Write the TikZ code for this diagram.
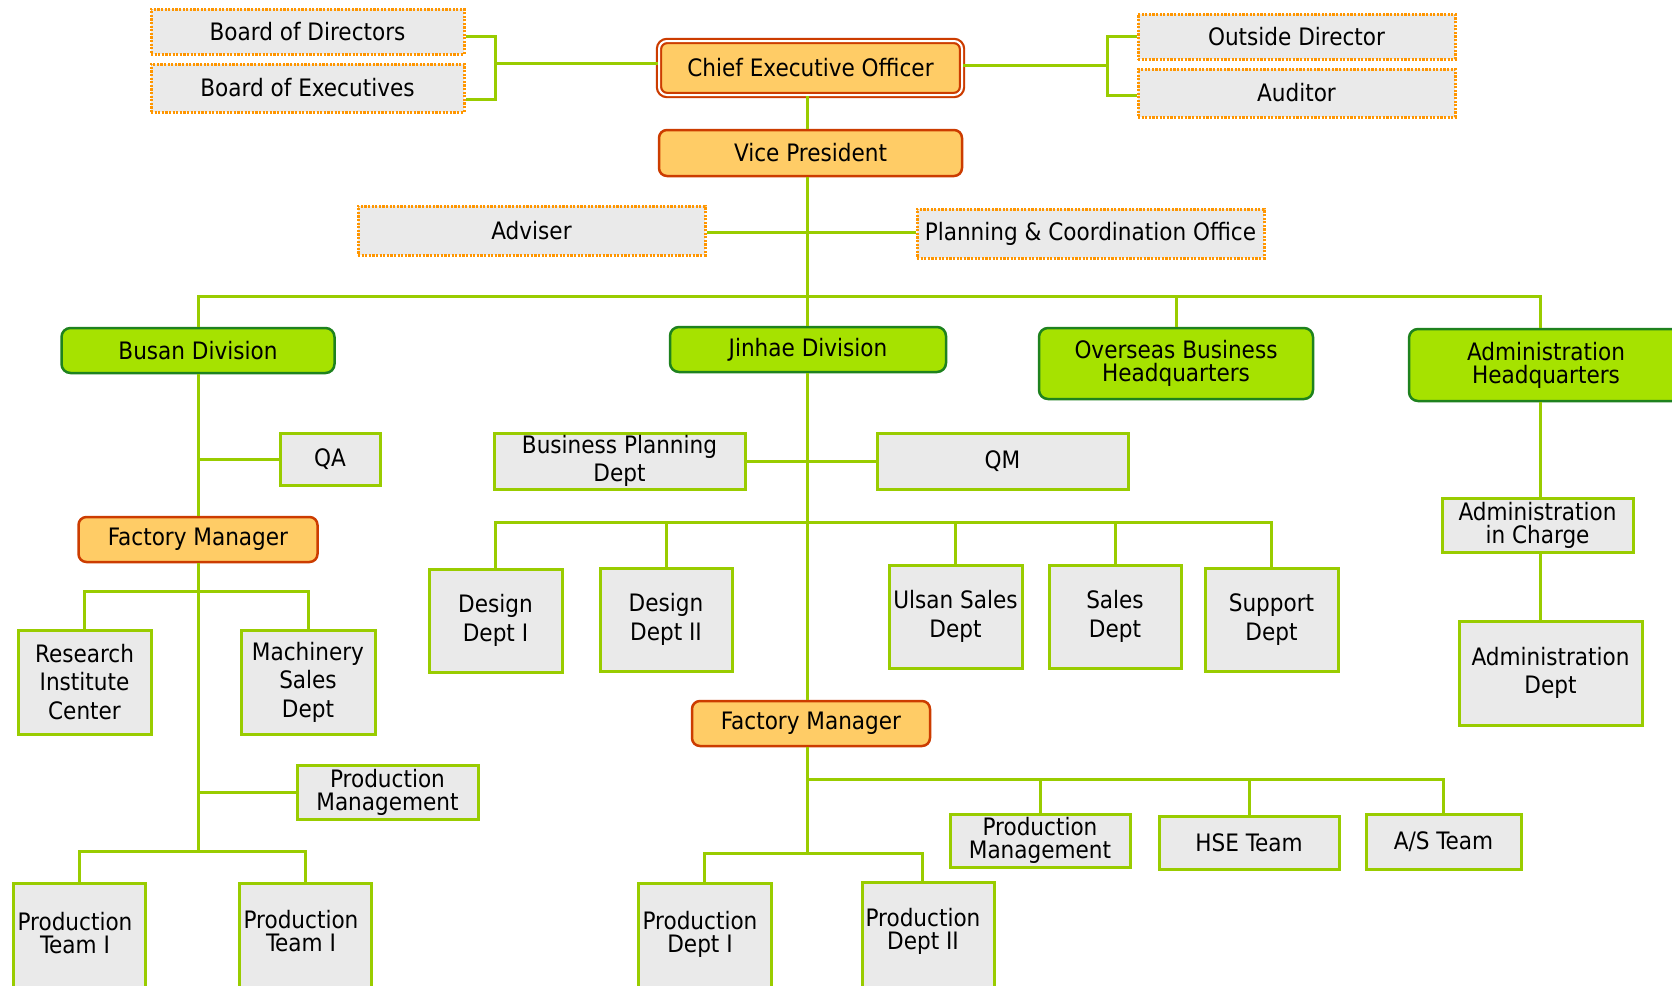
\documentclass[tikz,border=0pt]{standalone}
\usepackage{fontspec}
\setmainfont{DejaVu Sans Condensed}
\usetikzlibrary{calc}
\definecolor{lg}{RGB}{153,204,0}
\definecolor{gfill}{RGB}{234,234,234}
\definecolor{dfill}{RGB}{166,226,0}
\definecolor{dline}{RGB}{30,130,30}
\definecolor{ofill}{RGB}{255,204,102}
\definecolor{oline}{RGB}{204,60,0}
\definecolor{odot}{RGB}{255,150,0}
\begin{document}
\begin{tikzpicture}[x=1pt,y=-1pt,
 base/.style={inner sep=0pt, align=center, font=\fontsize{24}{28.5}\selectfont, text=black},
 tight/.style={font=\fontsize{24}{23}\selectfont},
 gbox/.style={base, draw=lg, fill=gfill, line width=3pt},
 obox/.style={base, draw=odot, fill=gfill, line width=3pt, dash pattern=on 2.2pt off 1.4pt},
 fbox/.style={base, draw=oline, fill=ofill, line width=2.5pt, rounded corners=8pt},
 dbox/.style={base, draw=dline, fill=dfill, line width=2.5pt, rounded corners=9pt},
 conn/.style={draw=lg, line width=3pt},
 sz/.style 2 args={minimum width=#1pt, minimum height=#2pt},
]
\fill[white] (0,0) rectangle (1672,985);
\useasboundingbox (0,0) rectangle (1672,985);
\clip (0,0) rectangle (1672,985);

% dotted boxes
\node[obox, sz={313}{45}] (bod) at (307.5,31.5) {Board of Directors};
\node[obox, sz={313}{48}] (boe) at (307.5,88) {Board of Executives};
\node[obox, sz={317}{45}] (od) at (1296.5,36.5) {Outside Director};
\node[obox, sz={317}{48}] (aud) at (1296.5,93) {Auditor};
\node[obox, sz={347}{49}] (adv) at (531.5,230.5) {Adviser};
\node[obox, sz={347}{49}] (pco) at (1090.5,233.5) {Planning \& Coordination Office};

% orange boxes
\node[fbox, double=white, double distance=2pt, line width=2.2pt, sz={303}{54}] (ceo) at (810.5,68) {Chief Executive Officer};
\node[fbox, sz={303}{46}] (vp) at (810.5,153) {Vice President};
\node[fbox, sz={239}{45}] (fm1) at (198,539.5) {Factory Manager};
\node[fbox, sz={238}{45}] (fm2) at (811,723.5) {Factory Manager};

% divisions
\node[dbox, sz={273}{45}] (busan) at (198,350.5) {Busan Division};
\node[dbox, sz={276}{45}] (jinhae) at (808,349.5) {Jinhae Division};
\node[dbox, tight, sz={274}{71}] (overseas) at (1176,363.5) {Overseas Business\\Headquarters};
\node[dbox, tight, sz={274}{72}] (adminhq) at (1546,365) {Administration\\Headquarters};

% grey boxes
\node[gbox, sz={100}{52}] (qa) at (330,459) {QA};
\node[gbox, sz={133}{104}] (ric) at (84.5,682) {Research\\Institute\\Center};
\node[gbox, sz={134}{104}] (msd) at (308,682) {Machinery\\Sales\\Dept};
\node[gbox, tight, sz={181}{54}] (pm1) at (387.5,792) {Production\\Management};
\node[gbox, sz={251}{56}] (bpd) at (619.5,461) {Business Planning\\Dept};
\node[gbox, sz={251}{56}] (qm) at (1002.5,461) {QM};
\node[gbox, sz={133}{103}] (dd1) at (495.5,620.5) {Design\\Dept I};
\node[gbox, sz={132}{103}] (dd2) at (666,619.5) {Design\\Dept II};
\node[gbox, sz={133}{103}] (usd) at (955.5,616.5) {Ulsan Sales\\Dept};
\node[gbox, sz={132}{103}] (sd) at (1115,616.5) {Sales\\Dept};
\node[gbox, sz={133}{103}] (spd) at (1271.5,619.5) {Support\\Dept};
\node[gbox, tight, sz={180}{53}] (pm2) at (1040,840.5) {Production\\Management};
\node[gbox, sz={180}{53}] (hse) at (1249,842.5) {HSE Team};
\node[gbox, sz={155}{55}] (ast) at (1443.5,841.5) {A/S Team};
\node[gbox, tight, sz={191}{54}] (aic) at (1537.5,525) {Administration\\in Charge};
\node[gbox, sz={183}{104}] (ad) at (1550.5,673) {Administration\\Dept};

% boxes cut by the lower edge
\node[gbox, sz={132}{160}, anchor=north] (pt1) at (79,882) {};
\node[gbox, sz={132}{160}, anchor=north] (pt2) at (305,882) {};
\node[gbox, sz={133}{160}, anchor=north] (pd1) at (704.5,882) {};
\node[gbox, sz={132}{160}, anchor=north] (pd2) at (928,881) {};
\node[base, tight] (pt1t) at (75,933) {Production\\Team I};
\node[base, tight] (pt2t) at (301,931) {Production\\Team I};
\node[base, tight] (pd1t) at (700,934) {Production\\Dept I};
\node[base, tight] (pd2t) at (923,931) {Production\\Dept II};

% helper coordinates
\coordinate (sp) at (807,0);
\coordinate (brL) at (495,63);
\coordinate (brR) at (1107,65);
\coordinate (adx) at (1540,0);
\coordinate (yBus) at (0,296);
\coordinate (yB1) at (0,591);
\coordinate (yB2) at (0,851);
\coordinate (yB3) at (0,522);
\coordinate (yB4) at (0,779);
\coordinate (yB5) at (0,853);
\coordinate (bodR) at ([yshift=-5pt]bod.east);
\coordinate (boeR) at ([yshift=-11pt]boe.east);
\coordinate (audL) at ([yshift=-2pt]aud.west);
\coordinate (advR) at ([yshift=-1.5pt]adv.east);
\coordinate (pd2top) at ([xshift=-6pt]pd2.north);

% connectors
\draw[conn] (bodR) -| (brL) |- (boeR);
\draw[conn] (brL) -- (brL -| ceo.west);
\draw[conn] (od.west) -| (brR) |- (audL);
\draw[conn] (brR) -- (brR -| ceo.east);
\draw[conn] (ceo.south -| sp) -- (vp.north -| sp);
\draw[conn] (vp.south -| sp) -- (jinhae.north -| sp);
\draw[conn] (advR) -- (advR -| pco.west);
\draw[conn] (busan.north) -- (busan.north |- yBus) -- (adx |- yBus) -- (adx |- adminhq.north);
\draw[conn] (overseas.north) -- (overseas.north |- yBus);

\draw[conn] (busan.south) -- (fm1.north);
\draw[conn] (qa.west) -- (qa.west -| fm1.north);
\draw[conn] (fm1.south) -- (fm1.south |- yB2);
\draw[conn] (ric.north) -- (ric.north |- yB1) -- (msd.north |- yB1) -- (msd.north);
\draw[conn] (pm1.west) -- (pm1.west -| fm1.south);
\draw[conn] (pt1.north) -- (pt1.north |- yB2) -- (pt2.north |- yB2) -- (pt2.north);

\draw[conn] (jinhae.south -| sp) -- (fm2.north -| sp);
\draw[conn] (bpd.east) -- (qm.west);
\draw[conn] (dd1.north) -- (dd1.north |- yB3) -- (spd.north |- yB3) -- (spd.north);
\draw[conn] (dd2.north) -- (dd2.north |- yB3);
\draw[conn] (usd.north) -- (usd.north |- yB3);
\draw[conn] (sd.north) -- (sd.north |- yB3);
\draw[conn] (fm2.south -| sp) -- (sp |- yB5);
\draw[conn] (sp |- yB4) -- (ast.north |- yB4) -- (ast.north);
\draw[conn] (pm2.north) -- (pm2.north |- yB4);
\draw[conn] (hse.north) -- (hse.north |- yB4);
\draw[conn] (pd1.north) -- (pd1.north |- yB5) -- (pd2top |- yB5) -- (pd2top);

\draw[conn] (adminhq.south -| adx) -- (aic.north -| adx);
\draw[conn] (aic.south -| adx) -- (ad.north -| adx);
\end{tikzpicture}
\end{document}
